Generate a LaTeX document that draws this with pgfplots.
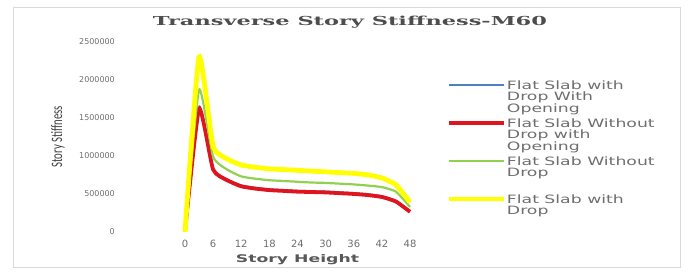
\documentclass[border=0pt]{standalone}
\usepackage{fontspec}
\setmainfont{DejaVu Sans}
\newfontfamily\legfont{DejaVu Sans}[FakeStretch=1.5]
\newfontfamily\titlefont{DejaVu Serif}
\newfontfamily\ylabfont{Carlito}
\usepackage{pgfplots}
\pgfplotsset{compat=1.18}
\definecolor{cblue}{RGB}{79,129,189}
\definecolor{cred}{RGB}{224,20,30}
\definecolor{cgreen}{RGB}{146,208,80}
\definecolor{cyellow}{RGB}{255,255,0}
\definecolor{txt}{RGB}{110,110,110}
\newcommand\legtext[1]{\parbox[t][38pt][t]{170pt}{\raggedright #1}}
\begin{document}
\begin{tikzpicture}
\useasboundingbox (0,0) rectangle (688pt,273pt);
\draw[black!15, line width=0.8pt] (13pt,6pt) rectangle (680pt,266pt);
\node[text=txt!70!black, inner sep=0pt] at (350pt,251pt) {\resizebox{394pt}{9.4pt}{\titlefont\bfseries Transverse Story Stiffness-M60}};
\begin{axis}[
  at={(175.6pt,41pt)}, anchor=south west, scale only axis,
  width=243.8pt, height=190.3pt,
  xmin=-2, xmax=50, ymin=0, ymax=2500000,
  axis line style={draw=none}, tick style={draw=none},
  xtick={0,6,12,18,24,30,36,42,48},
  ytick={0,500000,1000000,1500000,2000000,2500000},
  scaled y ticks=false,
  /pgf/number format/fixed, /pgf/number format/precision=0,
  /pgf/number format/1000 sep={}, /pgf/number format/assume math mode=true,
  yticklabel style={font=\fontsize{8}{8}\selectfont, text=txt, inner sep=0pt, anchor=east, xshift=-60.6pt},
  xticklabel style={font=\fontsize{10}{10}\selectfont, text=txt, inner sep=0pt, anchor=north, yshift=-7.5pt},
  xlabel={\resizebox{123pt}{8pt}{\bfseries Story Height}},
  xlabel style={at={(axis description cs:0.5,-0.1613)}, anchor=base, inner sep=0pt, text=txt!80!black},
  ylabel={\resizebox{62pt}{11pt}{\ylabfont Story Stiffness}},
  ylabel style={at={(axis description cs:-0.4824,0.5)}, anchor=center, inner sep=0pt, text=txt!60!black},
  legend cell align=left,
  legend style={at={(axis description cs:1.109,0.797)}, anchor=north west, draw=none, fill=none,
    inner sep=0pt, column sep=1pt, row sep=0pt,
    nodes={inner sep=0pt, text depth=, text=txt, font=\legfont\fontsize{11.5}{11.5}\selectfont},
    cells={anchor=base west}},
  legend image code/.code={\draw[#1, line cap=butt] (0pt,4.2pt) -- (55pt,4.2pt);},
]
\addplot[cblue, line width=1.5pt, smooth, tension=0.3] coordinates {
(0,0) (3,1650000) (6,840000) (9,695000) (12,615000) (15,585000) (18,565000) (21,555000) (24,545000) (27,540000) (30,535000) (33,525000) (36,515000) (39,500000) (42,475000) (45,415000) (48,280000)};
\addlegendentry{\legtext{Flat Slab with\\Drop With\\Opening}}
\addplot[cred, line width=3.8pt, smooth, tension=0.3] coordinates {
(0,0) (3,1620000) (6,820000) (9,680000) (12,600000) (15,570000) (18,550000) (21,540000) (24,530000) (27,525000) (30,520000) (33,510000) (36,500000) (39,485000) (42,460000) (45,400000) (48,265000)};
\addlegendentry{\legtext{Flat Slab Without\\Drop with\\Opening}}
\addplot[cgreen, line width=2.2pt, smooth, tension=0.3] coordinates {
(0,0) (3,1870000) (6,990000) (9,820000) (12,730000) (15,700000) (18,680000) (21,670000) (24,660000) (27,650000) (30,645000) (33,635000) (36,625000) (39,610000) (42,590000) (45,530000) (48,330000)};
\addlegendentry{\legtext{Flat Slab Without\\Drop}}
\addplot[cyellow, line width=4.8pt, smooth, tension=0.3] coordinates {
(0,0) (3,2300000) (6,1130000) (9,960000) (12,880000) (15,850000) (18,830000) (21,820000) (24,810000) (27,800000) (30,790000) (33,780000) (36,770000) (39,750000) (42,710000) (45,620000) (48,390000)};
\addlegendentry{\legtext{Flat Slab with\\Drop}}
\end{axis}
\end{tikzpicture}
\end{document}
